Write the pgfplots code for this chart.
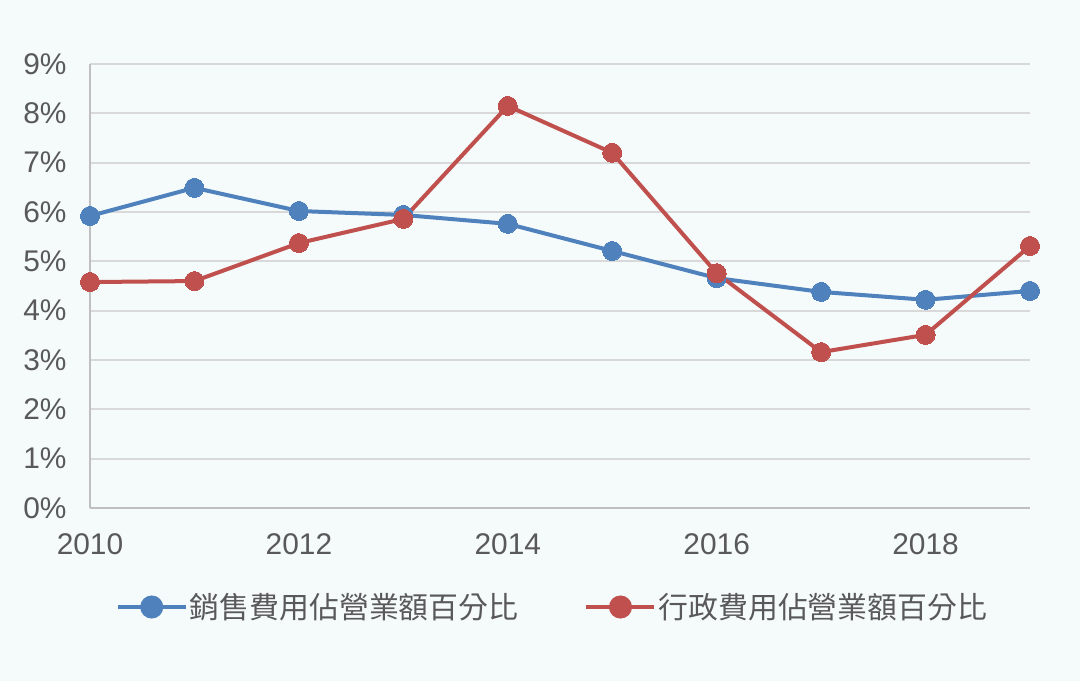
\documentclass[border=0pt]{standalone}
\usepackage{pgfplots}
\pgfplotsset{compat=1.18}
\usepackage{fontspec}
\setmainfont{Liberation Sans}
\newfontfamily\cjk{Noto Sans CJK TC}
\definecolor{bg}{HTML}{F5FBFB}
\definecolor{sblue}{HTML}{4F81BD}
\definecolor{sred}{HTML}{C0504D}
\definecolor{gridc}{HTML}{D9D9D9}
\definecolor{axisc}{HTML}{BFBFBF}
\definecolor{txt}{HTML}{595959}
\begin{document}
\begin{tikzpicture}
\fill[bg] (0,0) rectangle (1080bp,681bp);
\path[use as bounding box] (0,0) rectangle (1080bp,681bp);
\begin{axis}[
  at={(90bp,173bp)}, anchor=south west,
  scale only axis,
  width=940bp, height=444bp,
  xmin=2010, xmax=2019,
  ymin=0, ymax=9,
  clip=false,
  axis x line*=bottom, axis y line*=left,
  axis line style={-, draw=axisc, line width=1.5bp},
  xtick={2010,2012,2014,2016,2018},
  xticklabels={2010,2012,2014,2016,2018},
  ytick={0,1,...,9},
  yticklabels={0\%,1\%,2\%,3\%,4\%,5\%,6\%,7\%,8\%,9\%},
  major tick length=0pt,
  ymajorgrids,
  grid style={draw=gridc, line width=1.8bp},
  tick label style={font=\fontsize{30}{35}\selectfont, text=txt},
  xticklabel style={yshift=-22bp},
  yticklabel style={xshift=-20bp},
  legend columns=2,
  legend style={at={(0.492,-0.223)}, anchor=center, draw=none, fill=none,
    font=\fontsize{30}{35}\selectfont\cjk, text=txt,
    /tikz/every even column/.append style={column sep=64bp}},
  legend image code/.code={
    \draw[#1, mark=none] (-4bp,0bp) -- (64bp,0bp);
    \fill[#1] (30bp,0bp) circle (9.5bp);
  },
]
\addplot[color=sblue, line width=4bp, mark=*, mark size=9.5bp, mark options={fill=sblue, draw=sblue, line width=0pt}]
  coordinates {
  (2010,5.92)(2011,6.49)(2012,6.02)(2013,5.94)(2014,5.76)
  (2015,5.21)(2016,4.66)(2017,4.38)(2018,4.22)(2019,4.40)
  };
\addlegendentry{銷售費用佔營業額百分比}
\addplot[color=sred, line width=4bp, mark=*, mark size=9.5bp, mark options={fill=sred, draw=sred, line width=0pt}]
  coordinates {
  (2010,4.58)(2011,4.60)(2012,5.37)(2013,5.86)(2014,8.15)
  (2015,7.20)(2016,4.76)(2017,3.16)(2018,3.51)(2019,5.31)
  };
\addlegendentry{行政費用佔營業額百分比}
\end{axis}
\end{tikzpicture}
\end{document}
